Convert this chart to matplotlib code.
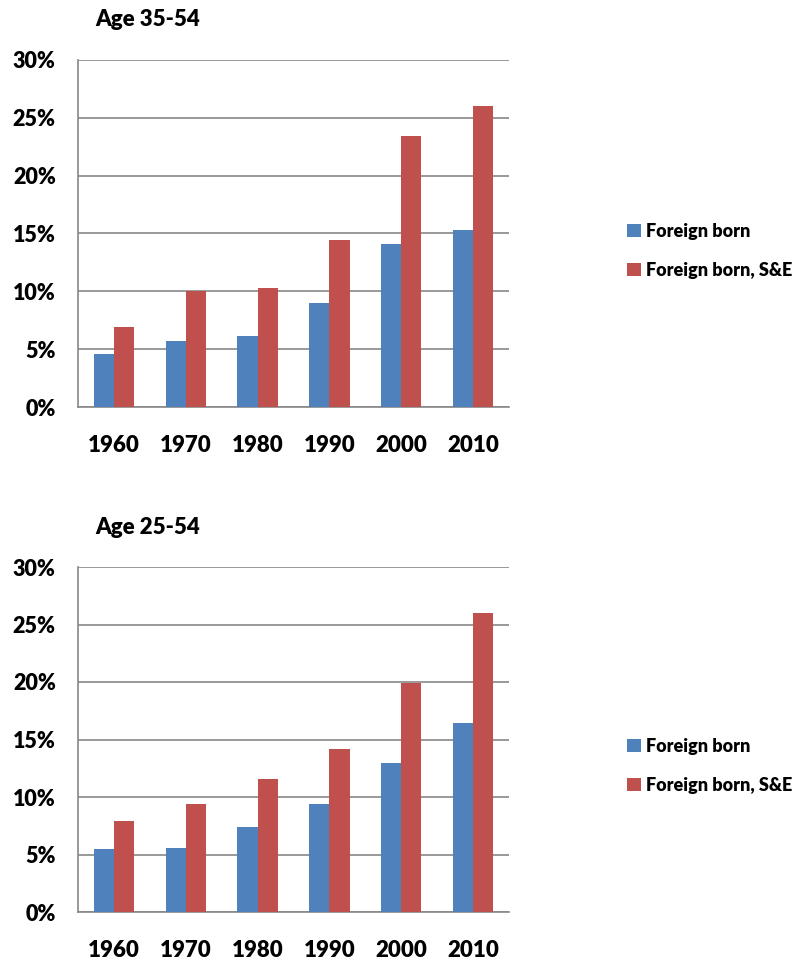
import matplotlib.pyplot as plt
import numpy as np

years = ['1960', '1970', '1980', '1990', '2000', '2010']
labels = ['Foreign born', 'Foreign born, S&E']
titles = ['Age 35-54', 'Age 25-54']
fb_35 = [4.6, 5.7, 6.1, 9.0, 14.1, 15.3]
se_35 = [6.9, 10.0, 10.3, 14.4, 23.4, 26.0]
fb_25 = [5.5, 5.6, 7.4, 9.4, 13.0, 16.4]
se_25 = [7.9, 9.4, 11.6, 14.2, 19.9, 26.0]

blue = '#4F81BD'
red = '#C0504D'
plt.rcParams['font.family'] = ['Lato', 'DejaVu Sans']

fig = plt.figure(figsize=(8.08, 9.63), dpi=100)
W, H = 808, 963
boxes = [(78, 60, 509, 407), (78, 567, 509, 912)]
title_y = [20, 527]
leg_y = [251, 766]
data = [(fb_35, se_35), (fb_25, se_25)]

x = np.arange(len(years))
w = 0.28
for i in range(2):
    l, t, r, b = boxes[i]
    ax = fig.add_axes([l / W, 1 - b / H, (r - l) / W, (b - t) / H])
    fb, se = data[i]
    ax.bar(x - w / 2, fb, w, color=blue, label=labels[0], zorder=3)
    ax.bar(x + w / 2, se, w, color=red, label=labels[1], zorder=3)
    ax.set_xlim(-0.5, 5.5)
    ax.set_ylim(0, 30)
    ax.set_yticks(range(0, 31, 5))
    ax.set_yticklabels([f'{v}%' for v in range(0, 31, 5)], fontsize=15.5, fontweight='heavy')
    ax.set_xticks(x)
    ax.set_xticklabels(years, fontsize=16, fontweight='heavy')
    ax.yaxis.grid(True, color='#888888', linewidth=1.2, zorder=0)
    for s in ['top', 'right']:
        ax.spines[s].set_visible(False)
    for s in ['left', 'bottom']:
        ax.spines[s].set_color('#888888')
        ax.spines[s].set_linewidth(1.2)
    ax.tick_params(axis='x', length=0, pad=20)
    ax.tick_params(axis='y', length=0, pad=16)
    fig.text(95 / W, 1 - title_y[i] / H, titles[i], fontsize=16, fontweight='heavy',
             va='center', ha='left')
    ax.legend(loc='center left', bbox_to_anchor=(611 / W, 1 - leg_y[i] / H),
              bbox_transform=fig.transFigure, frameon=False,
              prop={'size': 13, 'weight': 'heavy'}, handlelength=0.75, handleheight=0.75,
              handletextpad=0.3, labelspacing=1.2)

fig.savefig('out.png', dpi=100)
